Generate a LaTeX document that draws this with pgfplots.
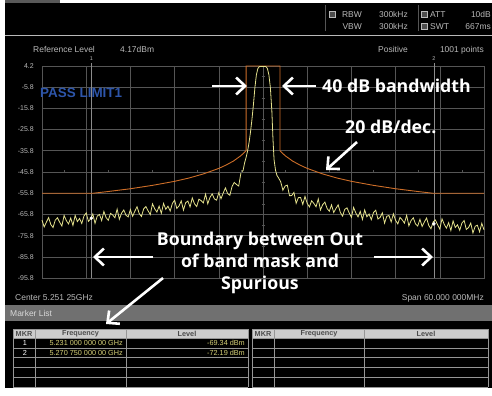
\documentclass[border=0pt]{standalone}
\usepackage{fontspec}
\setmainfont{Liberation Sans}
\newfontfamily\annot{Open Sans}
\usepackage{pgfplots}
\pgfplotsset{compat=1.18}
\usetikzlibrary{arrows.meta}
\definecolor{gridc}{RGB}{85,85,85}
\definecolor{maskc}{RGB}{205,110,40}
\definecolor{tracec}{RGB}{228,225,140}
\definecolor{txtc}{RGB}{185,185,185}
\definecolor{passc}{RGB}{45,85,170}
\definecolor{barc}{RGB}{112,112,112}
\definecolor{hdrc}{RGB}{205,205,205}
\definecolor{tabline}{RGB}{150,150,150}
\definecolor{valc}{RGB}{215,210,120}
\newcommand\hf{\fontsize{8.5}{9}\selectfont}
\newcommand\tf{\fontsize{7.3}{8}\selectfont}
\newcommand\af{\annot\bfseries\fontsize{17.8}{20}\selectfont}
\tikzset{arr/.style={white, line width=2.6bp, -{Straight Barb[length=9bp,width=17bp]}}}
\begin{document}
\begin{tikzpicture}[x=1bp,y=1bp]
\fill[white] (0,0) rectangle (492,395);
\fill[black] (5,7) rectangle (492,392);
\fill[black!65] (5,392) rectangle (60,395);
% header
\draw[txtc, line width=0.8bp] (5,360) -- (492,360);
\draw[gridc, line width=0.6bp] (325,364) -- (325,390);
\draw[gridc, line width=0.6bp] (418,364) -- (418,390);
\draw[txtc, line width=0.5bp, fill=black!70] (329,378) rectangle (335,384);
\draw[txtc, line width=0.5bp, fill=black!70] (421,378) rectangle (427,384);
\draw[txtc, line width=0.5bp, fill=black!70] (421,366) rectangle (427,372);
\node[anchor=base east, inner sep=0, text=txtc, font=\hf] at (362,378) {RBW};
\node[anchor=base east, inner sep=0, text=txtc, font=\hf] at (362,366) {VBW};
\node[anchor=base east, inner sep=0, text=txtc, font=\hf] at (408,378) {300kHz};
\node[anchor=base east, inner sep=0, text=txtc, font=\hf] at (408,366) {300kHz};
\node[anchor=base west, inner sep=0, text=txtc, font=\hf] at (430,378) {ATT};
\node[anchor=base west, inner sep=0, text=txtc, font=\hf] at (430,366) {SWT};
\node[anchor=base east, inner sep=0, text=txtc, font=\hf] at (491,378) {10dB};
\node[anchor=base east, inner sep=0, text=txtc, font=\hf] at (491,366) {667ms};
\node[anchor=base west, inner sep=0, text=txtc, font=\hf] at (33,343) {Reference Level};
\node[anchor=base west, inner sep=0, text=txtc, font=\hf] at (120,343) {4.17dBm};
\node[anchor=base west, inner sep=0, text=txtc, font=\hf] at (378,343) {Positive};
\node[anchor=base east, inner sep=0, text=txtc, font=\hf] at (484,343) {1001 points};
% chart
\begin{axis}[at={(42bp,117bp)}, anchor=south west, scale only axis,
  width=442bp, height=212bp,
  xmin=-30, xmax=30, ymin=-95.8, ymax=4.2,
  xtick={-30,-24,-18,-12,-6,0,6,12,18,24,30}, xticklabels={},
  ytick={4.2,-5.8,-15.8,-25.8,-35.8,-45.8,-55.8,-65.8,-75.8,-85.8,-95.8},
  yticklabels={4.2,-5.8,-15.8,-25.8,-35.8,-45.8,-55.8,-65.8,-75.8,-85.8,-95.8},
  grid=major, major grid style={gridc, line width=0.6bp},
  axis line style={gridc, line width=0.8bp},
  major tick length=0pt,
  yticklabel style={font=\fontsize{7}{8}\selectfont, text=txtc, inner sep=0pt, xshift=-8bp},
  clip=false, axis background/.style={fill=black}]
\addplot[only marks, mark=+, mark size=1.5bp, gridc] coordinates {(-27,-45.8) (-21,-45.8) (-15,-45.8) (-9,-45.8) (-3,-45.8) (3,-45.8) (9,-45.8) (15,-45.8) (21,-45.8) (27,-45.8)
 (0,-0.8) (0,-10.8) (0,-20.8) (0,-30.8) (0,-40.8) (0,-50.8) (0,-60.8) (0,-70.8) (0,-80.8) (0,-90.8)};
\addplot[black!45, line width=0.6bp] coordinates {(-23.3,-95.8) (-23.3,5.6)};
\addplot[black!45, line width=0.6bp] coordinates {(23.2,-95.8) (23.2,5.6)};
\addplot[maskc, line width=0.9bp] coordinates {(-30,-55.8) (-23,-55.8) (-21,-55.0) (-18,-53.7) (-15,-52.1) (-12,-50.2) (-10,-48.6) (-8,-46.6) (-6,-44.1) (-5,-42.5) (-4,-40.6) (-3,-38.1) (-2.3,-35.8) (-2.3,4.2) (2.3,4.2) (2.3,-35.8) (3,-38.1) (4,-40.6) (5,-42.5) (6,-44.1) (8,-46.6) (10,-48.6) (12,-50.2) (15,-52.1) (18,-53.7) (21,-55.0) (23,-55.8) (30,-55.8)};
\addplot[tracec, line width=0.8bp] coordinates {
(-30.0,-68.5) (-29.7,-71.7) (-29.4,-69.4) (-29.1,-67.3) (-28.8,-70.6) (-28.5,-72.0) (-28.2,-68.5) (-27.9,-67.4) (-27.6,-69.5) (-27.3,-71.3) (-27.0,-66.3) (-26.7,-68.7) (-26.4,-70.3) (-26.1,-67.5) (-25.8,-71.0) (-25.5,-66.3) (-25.2,-69.2) (-24.9,-67.7) (-24.6,-70.1) (-24.3,-66.5) (-24.0,-65.1) (-23.7,-69.1) (-23.4,-67.9) (-23.1,-65.6) (-22.8,-70.0) (-22.5,-66.6) (-22.2,-65.8) (-21.9,-68.7) (-21.6,-64.4) (-21.3,-67.3) (-21.0,-68.6) (-20.7,-65.3) (-20.4,-66.1) (-20.1,-67.4) (-19.8,-63.3) (-19.5,-68.1) (-19.2,-65.2) (-18.9,-63.7) (-18.6,-66.2) (-18.3,-67.0) (-18.0,-63.5) (-17.7,-66.7) (-17.4,-64.3) (-17.1,-62.2) (-16.8,-65.4) (-16.5,-66.8) (-16.2,-63.2) (-15.9,-62.1) (-15.6,-64.1) (-15.3,-65.9) (-15.0,-60.8) (-14.7,-63.2) (-14.4,-64.7) (-14.1,-61.9) (-13.8,-65.3) (-13.5,-60.6) (-13.2,-63.4) (-12.9,-61.9) (-12.6,-64.2) (-12.3,-60.6) (-12.0,-59.1) (-11.7,-63.0) (-11.4,-61.8) (-11.1,-59.4) (-10.8,-63.8) (-10.5,-60.3) (-10.2,-59.5) (-9.9,-62.3) (-9.6,-58.0) (-9.3,-60.8) (-9.0,-62.1) (-8.7,-58.6) (-8.4,-59.3) (-8.1,-60.4) (-7.8,-56.2) (-7.5,-60.8) (-7.2,-57.8) (-6.9,-56.1) (-6.6,-58.5) (-6.3,-59.1) (-6.0,-55.5) (-5.7,-58.4) (-5.4,-55.7) (-5.1,-53.3) (-4.8,-56.0) (-4.5,-56.8) (-4.2,-52.6) (-3.9,-50.7) (-3.6,-51.7) (-3.3,-52.4) (-3.0,-46.3)
(-2.7,-45.0) (-2.5,-41.5) (-2.3,-39.0) (-2.1,-36.0) (-1.9,-32.0) (-1.7,-27.0) (-1.5,-21.0) (-1.3,-14.0) (-1.1,-6.0) (-0.9,0.0) (-0.7,3.0) (-0.5,3.9) (-0.2,4.0) (0.1,4.0) (0.4,3.9) (0.6,3.0) (0.8,0.0) (1.0,-6.0) (1.2,-17.0) (1.35,-30.0) (1.5,-40.0) (1.7,-45.0) (1.9,-47.5) (2.1,-48.5)
(2.4,-50.4) (2.7,-54.4) (3.0,-52.4) (3.3,-52.0) (3.6,-57.0) (3.9,-56.9) (4.2,-55.4) (4.5,-60.6) (4.8,-57.9) (5.1,-57.8) (5.4,-61.1) (5.7,-57.3) (6.0,-60.6) (6.3,-62.3) (6.6,-59.4) (6.9,-60.6) (7.2,-62.2) (7.5,-58.5) (7.8,-63.7) (8.1,-61.2) (8.4,-60.0) (8.7,-63.0) (9.0,-64.3) (9.3,-61.3) (9.6,-64.9) (9.9,-63.0) (10.2,-61.3) (10.5,-64.9) (10.8,-66.6) (11.1,-63.4) (11.4,-62.7) (11.7,-65.1) (12.0,-67.2) (12.3,-62.5) (12.6,-65.1) (12.9,-67.0) (13.2,-64.4) (13.5,-68.2) (13.8,-63.7) (14.1,-66.9) (14.4,-65.6) (14.7,-68.3) (15.0,-64.9) (15.3,-63.8) (15.6,-68.0) (15.9,-67.2) (16.2,-65.1) (16.5,-69.9) (16.8,-66.7) (17.1,-66.3) (17.4,-69.4) (17.7,-65.5) (18.0,-68.6) (18.3,-70.3) (18.6,-67.2) (18.9,-68.4) (19.2,-69.9) (19.5,-66.2) (19.8,-71.2) (20.1,-68.7) (20.4,-67.4) (20.7,-70.3) (21.0,-71.3) (21.3,-68.1) (21.6,-71.5) (21.9,-69.4) (22.2,-67.5) (22.5,-71.0) (22.8,-72.6) (23.1,-69.3) (23.4,-68.4) (23.7,-70.7) (24.0,-72.7) (24.3,-67.9) (24.6,-70.5) (24.9,-72.3) (25.2,-69.7) (25.5,-73.4) (25.8,-68.9) (26.1,-72.0) (26.4,-70.7) (26.7,-73.3) (27.0,-69.9) (27.3,-68.7) (27.6,-72.9) (27.9,-72.0) (28.2,-69.9) (28.5,-74.6) (28.8,-71.4) (29.1,-70.9) (29.4,-74.0) (29.7,-70.0) (30.0,-73.1)};
\addplot[only marks, mark=*, mark size=1.6bp, white] coordinates {(-23.3,-67.6) (23.2,-70.3)};
\node[text=txtc, font=\fontsize{5.5}{6}\selectfont, inner sep=0] at (axis cs:-23.3,7.5) {1};
\node[text=txtc, font=\fontsize{5.5}{6}\selectfont, inner sep=0] at (axis cs:23.2,7.5) {2};
\end{axis}
\node[anchor=base west, inner sep=0, text=passc, font=\bfseries\fontsize{13.5}{15}\selectfont] at (40,298) {PASS LIMIT1};
% bottom labels
\node[anchor=base west, inner sep=0, text=txtc, font=\hf] at (15,95) {Center 5.251 25GHz};
\node[anchor=base east, inner sep=0, text=txtc, font=\hf] at (484,95) {Span 60.000 000MHz};
% marker list bar
\fill[barc] (5,74) rectangle (492,90);
\node[anchor=west, inner sep=0, text=black!15, font=\hf] at (10,82) {Marker List};
% tables
\foreach \a/\b/\c/\d in {13/35/126/248, 252/274/364/488}{
  \fill[hdrc] (\a,57) rectangle (\d,66);
  \foreach \yy in {66,57,47,38,28,18,8} {\draw[tabline, line width=0.9bp] (\a,\yy) -- (\d,\yy);}
  \foreach \xx in {\a,\b,\c,\d} {\draw[tabline, line width=0.9bp] (\xx,8) -- (\xx,66);}
}
\node[text=black!70, font=\tf\bfseries, inner sep=0] at (24,61.5) {MKR};
\node[text=black!70, font=\tf\bfseries, inner sep=0] at (80.5,61.5) {Frequency};
\node[text=black!70, font=\tf\bfseries, inner sep=0] at (187,61.5) {Level};
\node[text=black!70, font=\tf\bfseries, inner sep=0] at (263,61.5) {MKR};
\node[text=black!70, font=\tf\bfseries, inner sep=0] at (319,61.5) {Frequency};
\node[text=black!70, font=\tf\bfseries, inner sep=0] at (426,61.5) {Level};
\node[text=white, font=\tf, inner sep=0] at (25,52) {1};
\node[text=white, font=\tf, inner sep=0] at (25,42.5) {2};
\node[anchor=east, text=valc, font=\tf, inner sep=0] at (123,52) {5.231 000 000 00 GHz};
\node[anchor=east, text=valc, font=\tf, inner sep=0] at (123,42.5) {5.270 750 000 00 GHz};
\node[anchor=east, text=valc, font=\tf, inner sep=0] at (245,52) {-69.34 dBm};
\node[anchor=east, text=valc, font=\tf, inner sep=0] at (245,42.5) {-72.19 dBm};
% annotations
\draw[arr] (212,309) -- (247,309);
\draw[arr] (316,309) -- (282,309);
\node[anchor=base west, inner sep=0, text=white, font=\af] at (322,303) {40 dB bandwidth};
\node[anchor=base west, inner sep=0, text=white, font=\af] at (345,262) {20 dB/dec.};
\draw[arr] (357,253) -- (326,225);
\node[anchor=base, inner sep=0, text=white, font=\af] at (260,150) {Boundary between Out};
\node[anchor=base, inner sep=0, text=white, font=\af] at (260,128) {of band mask and};
\node[anchor=base, inner sep=0, text=white, font=\af] at (260,106) {Spurious};
\draw[arr] (153,138) -- (93,138);
\draw[arr] (374,138) -- (433,138);
\draw[arr] (163,117) -- (106,71);
\pgfresetboundingbox
\useasboundingbox (0,0) rectangle (492,395);
\end{tikzpicture}
\end{document}
